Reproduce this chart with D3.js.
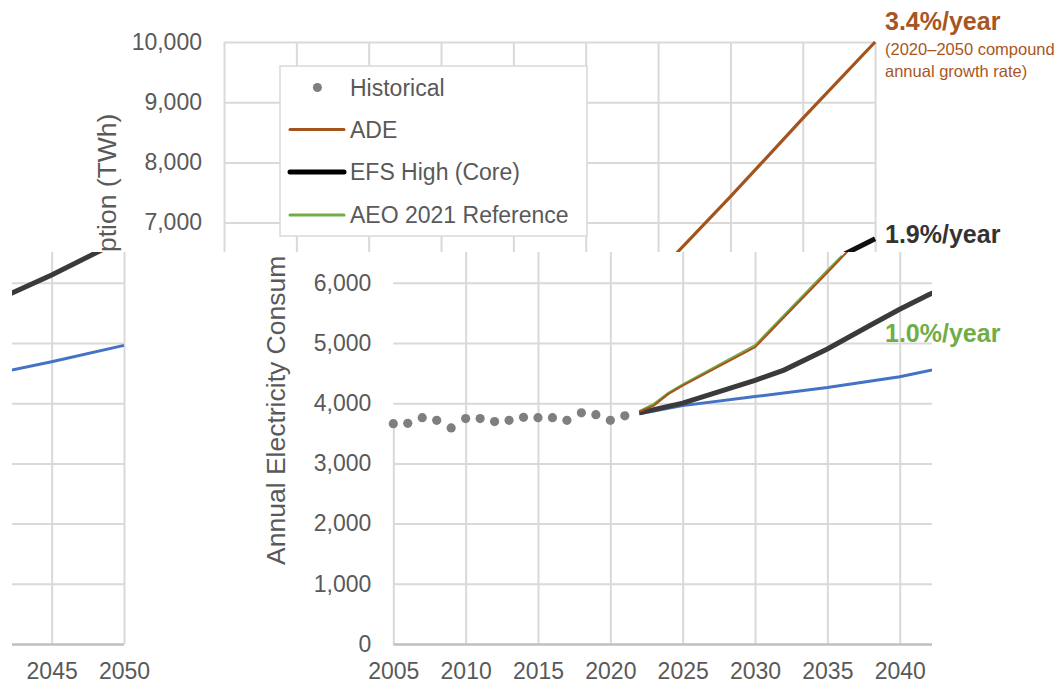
<!DOCTYPE html>
<html>
<head>
<meta charset="utf-8">
<script src="https://cdn.jsdelivr.net/npm/d3@7"></script>
<style>
  body { margin: 0; background: #fff; }
  text { font-family: "Liberation Sans", Arial, sans-serif; }
</style>
</head>
<body>
<div id="chart"></div>
<script>
// Data
const histYears = [2005, 2006, 2007, 2008, 2009, 2010, 2011, 2012, 2013, 2014, 2015, 2016, 2017, 2018, 2019, 2020, 2021];
const histValues = [3660, 3665, 3760, 3715, 3590, 3745, 3745, 3695, 3715, 3765, 3760, 3760, 3715, 3840, 3810, 3715, 3790];

const adeYears = [2022, 2023, 2024, 2025, 2030, 2035, 2040, 2045, 2050];
const adeValues = [3860, 3960, 4150, 4290, 4930, 6170, 7430, 8730, 10000];

const efsYears = [2022, 2025, 2030, 2032, 2035, 2038, 2040, 2042, 2045, 2048, 2050];
const efsValues = [3840, 4000, 4380, 4550, 4900, 5300, 5560, 5800, 6130, 6490, 6730];

const aeoYears = [2022, 2023, 2024, 2025, 2030, 2035, 2036];
const aeoValues = [3870, 3990, 4175, 4315, 4965, 6210, 6450];

const refYears = [2022, 2025, 2030, 2035, 2040, 2045, 2050];
const refValues = [3825, 3960, 4110, 4260, 4440, 4690, 4960];

const xTicks = [2005, 2010, 2015, 2020, 2025, 2030, 2035, 2040, 2045, 2050];
const yTicks = [0, 1000, 2000, 3000, 4000, 5000, 6000, 7000, 8000, 9000, 10000];

const legendLabels = ['Historical', 'ADE', 'EFS High (Core)', 'AEO 2021 Reference'];

const colors = {
  hist: '#7f7f7f',
  ade: '#a3531c',
  efs: '#3a3a3a',
  aeo: '#70ad47',
  ref: '#4472c4',
  grid: '#d9d9d9',
  text: '#595959'
};

const width = 1064, height = 684;

// Scales (chart coordinates, before the pieces are shifted)
const x = d3.scaleLinear().domain([2005, 2050]).range([393.3, 1044.4]);
const y = d3.scaleLinear().domain([0, 10000]).range([644, 42]);

const svg = d3.select('#chart').append('svg')
  .attr('width', width)
  .attr('height', height);

const defs = svg.append('defs');

const toPoints = (years, values) => years.map((yr, i) => [yr, values[i]]);
const line = d3.line().x(d => x(d[0])).y(d => y(d[1]));

const drawChart = (g, p) => {
  const plotW = x(2050) - x(2005);
  const plotH = y(0) - y(10000);

  // y axis + horizontal gridlines
  const yAxis = g.append('g')
    .attr('transform', `translate(${x(2005)},0)`)
    .call(d3.axisLeft(y).tickValues(yTicks).tickFormat(d3.format(',')).tickSize(-plotW).tickPadding(22));
  yAxis.select('.domain').remove();
  yAxis.selectAll('line')
    .attr('stroke', d => d === 0 ? '#bfbfbf' : colors.grid)
    .attr('stroke-width', d => d === 0 ? 2.5 : 2);
  yAxis.selectAll('text')
    .attr('fill', colors.text)
    .style('font-size', '23px');
  yAxis.selectAll('.tick text').filter(d => !p.yLabels.includes(d)).remove();

  // x axis + vertical gridlines
  const xAxis = g.append('g')
    .attr('transform', `translate(0,${y(0)})`)
    .call(d3.axisBottom(x).tickValues(xTicks).tickFormat(d3.format('d')).tickSize(-plotH).tickPadding(19));
  xAxis.select('.domain').remove();
  xAxis.selectAll('line')
    .attr('stroke', colors.grid)
    .attr('stroke-width', 2)
    .attr('y2', d => d === 2005 ? -(y(0) - y(p.axisTop)) : -plotH);
  xAxis.selectAll('text')
    .attr('fill', colors.text)
    .style('font-size', '23px');
  xAxis.selectAll('.tick text').filter(d => !p.xLabels.includes(d)).remove();
  xAxis.lower();
  yAxis.raise();

  // Axis title (each piece shows its own part of it)
  if (p.title) {
    g.append('text')
      .attr('transform', `translate(285,${p.title.y}) rotate(-90)`)
      .attr('text-anchor', 'start')
      .attr('fill', colors.text)
      .style('font-size', '26.5px')
      .text(p.title.text);
  }

  // Lines
  g.append('path')
    .attr('d', line(toPoints(refYears, refValues)))
    .attr('fill', 'none').attr('stroke', colors.ref).attr('stroke-width', 3);
  g.append('path')
    .attr('d', line(toPoints(efsYears, efsValues)))
    .attr('fill', 'none').attr('stroke', p.efsColor).attr('stroke-width', 5);
  g.append('path')
    .attr('d', line(toPoints(aeoYears, aeoValues)))
    .attr('fill', 'none').attr('stroke', colors.aeo).attr('stroke-width', 1.8);
  g.append('path')
    .attr('d', line(toPoints(adeYears, adeValues)))
    .attr('fill', 'none').attr('stroke', colors.ade).attr('stroke-width', p.adeWidth);

  // Historical dots
  g.selectAll('circle.hist')
    .data(toPoints(histYears, histValues))
    .join('circle')
      .attr('class', 'hist')
      .attr('cx', d => x(d[0]))
      .attr('cy', d => y(d[1]))
      .attr('r', 4.6)
      .attr('fill', colors.hist);

  // Legend
  if (p.legend) {
    const lg = g.append('g').attr('transform', 'translate(449.3,66)');
    lg.append('rect')
      .attr('width', 307).attr('height', 170)
      .attr('fill', '#fff').attr('stroke', colors.grid).attr('stroke-width', 1.5);
    const rowY = [21.5, 63.5, 106, 149];
    const legendStyle = [
      {type: 'dot', color: colors.hist},
      {type: 'line', color: colors.ade, w: 3},
      {type: 'line', color: '#000', w: 5},
      {type: 'line', color: colors.aeo, w: 3}
    ];
    legendLabels.forEach((lab, i) => {
      const s = legendStyle[i];
      if (s.type === 'dot') {
        lg.append('circle').attr('cx', 37.4).attr('cy', rowY[i]).attr('r', 4.5).attr('fill', s.color);
      } else {
        lg.append('line')
          .attr('x1', 10).attr('x2', 64).attr('y1', rowY[i]).attr('y2', rowY[i])
          .attr('stroke', s.color).attr('stroke-width', s.w).attr('stroke-linecap', 'round');
      }
      lg.append('text')
        .attr('x', 70).attr('y', rowY[i] + 8)
        .attr('fill', colors.text)
        .style('font-size', '23px')
        .text(lab);
    });
  }
};

// The picture is built from three shifted pieces of the same chart
const pieces = [
  {
    id: 'top', dx: -169.3, clip: [0, 0, 1064, 252], axisTop: 10000,
    xLabels: [], yLabels: [7000, 8000, 9000, 10000],
    title: {text: 'ption (TWh)', y: 252},
    legend: true, efsColor: '#111', adeWidth: 3.2
  },
  {
    id: 'left', dx: -920.4, clip: [12, 252, 150, 432], axisTop: 10000,
    xLabels: [2045, 2050], yLabels: [],
    title: null, legend: false, efsColor: colors.efs, adeWidth: 2
  },
  {
    id: 'main', dx: 0, clip: [235, 252, 697, 432], axisTop: histValues[0],
    xLabels: [2005, 2010, 2015, 2020, 2025, 2030, 2035, 2040], yLabels: [0, 1000, 2000, 3000, 4000, 5000, 6000],
    title: {text: 'Annual Electricity Consum', y: 565},
    legend: false, efsColor: colors.efs, adeWidth: 2
  }
];

pieces.forEach(p => {
  defs.append('clipPath').attr('id', `clip-${p.id}`)
    .append('rect')
      .attr('x', p.clip[0]).attr('y', p.clip[1])
      .attr('width', p.clip[2]).attr('height', p.clip[3]);
  const g = svg.append('g')
    .attr('clip-path', `url(#clip-${p.id})`)
    .append('g')
    .attr('transform', `translate(${p.dx},0)`);
  drawChart(g, p);
});

// Growth-rate notes
const notes = svg.append('g').style('font-family', '"Open Sans", sans-serif');
notes.append('text').attr('x', 885).attr('y', 30)
  .attr('fill', '#a8561f').style('font-size', '25px').style('font-weight', 700)
  .text('3.4%/year');
notes.append('text').attr('x', 885).attr('y', 55)
  .attr('fill', '#a8561f').style('font-size', '16.5px')
  .text('(2020–2050 compound');
notes.append('text').attr('x', 885).attr('y', 77)
  .attr('fill', '#a8561f').style('font-size', '16.5px')
  .text('annual growth rate)');
notes.append('text').attr('x', 885).attr('y', 243)
  .attr('fill', '#333333').style('font-size', '25px').style('font-weight', 700)
  .text('1.9%/year');
notes.append('text').attr('x', 885).attr('y', 342)
  .attr('fill', colors.aeo).style('font-size', '25px').style('font-weight', 700)
  .text('1.0%/year');
</script>
</body>
</html>
